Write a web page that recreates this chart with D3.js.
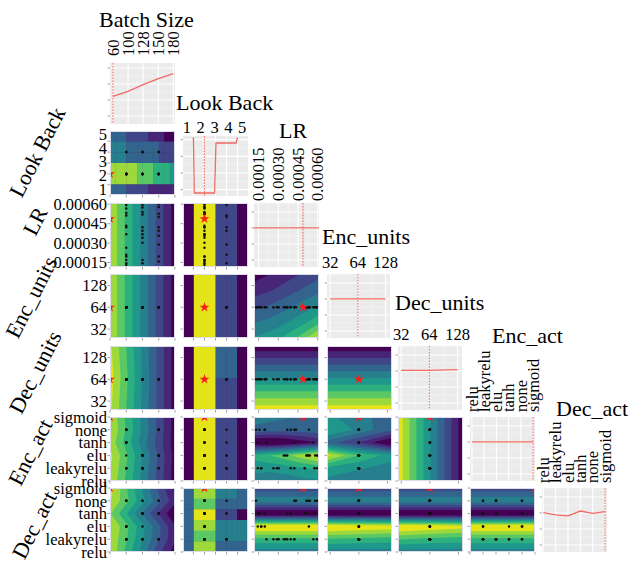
<!DOCTYPE html>
<html>
<head>
<meta charset="utf-8">
<script src="https://cdn.jsdelivr.net/npm/d3@7"></script>
<style>
  html, body { margin: 0; padding: 0; background: #ffffff; }
  #chart text { font-family: "Liberation Serif" !important; }
</style>
</head>
<body>
<svg id="chart" width="630" height="563"></svg>
<script>
// ---------------- hyper-parameter dimensions ----------------
const dimNames = ["Batch Size", "Look Back", "LR", "Enc_units", "Dec_units", "Enc_act", "Dec_act"];
const batchLevels = [60, 100, 128, 150, 180];
const lookBackLevels = [1, 2, 3, 4, 5];
const lrTicks = [0.00015, 0.00030, 0.00045, 0.00060];
const lrTickLabels = ["0.00015", "0.00030", "0.00045", "0.00060"];
const lrRange = [0.000115, 0.00061];
const unitLevels = [32, 64, 128];
const actLevels = ["relu", "leakyrelu", "elu", "tanh", "none", "sigmoid"];

// ---------------- evaluated configurations ----------------
const sampleBatch = [100, 100, 128, 150, 100, 128, 100, 150, 100, 100,
  150, 128, 128, 150, 100, 128, 128, 150, 100, 128,
  150, 100, 150, 100, 128, 150, 100, 128, 100, 128,
  150, 100, 128, 150];
const sampleLookBack = [2, 2, 4, 2, 2, 2, 2, 2, 4, 2,
  4, 2, 2, 2, 2, 2, 4, 2, 2, 2,
  4, 2, 4, 4, 2, 2, 2, 2, 2, 2,
  2, 2, 4, 2];
const sampleLR = [0.000130, 0.000144, 0.000144, 0.000157, 0.000170, 0.000170, 0.000197, 0.000197, 0.000210, 0.000263,
  0.000289, 0.000303, 0.000342, 0.000356, 0.000368, 0.000368, 0.000395, 0.000395, 0.000422, 0.000422,
  0.000422, 0.000435, 0.000501, 0.000514, 0.000522, 0.000527, 0.000533, 0.000541, 0.000567, 0.000575,
  0.000580, 0.000594, 0.000594, 0.000602];
const sampleEncUnits = [64, 64, 64, 64, 64, 64, 64, 64, 64, 64,
  64, 64, 64, 64, 64, 64, 64, 64, 64, 64,
  64, 64, 64, 64, 64, 64, 64, 64, 64, 64,
  64, 64, 64, 64];
const sampleDecUnits = [64, 64, 64, 64, 64, 64, 64, 64, 64, 64,
  64, 64, 64, 64, 64, 64, 64, 64, 64, 64,
  64, 64, 64, 64, 64, 64, 64, 64, 64, 64,
  64, 64, 64, 64];
const sampleEncAct = ["none", "tanh", "leakyrelu", "none", "leakyrelu", "leakyrelu", "none", "none", "tanh", "leakyrelu",
  "leakyrelu", "leakyrelu", "elu", "elu", "none", "elu", "leakyrelu", "none", "tanh", "leakyrelu",
  "none", "none", "leakyrelu", "elu", "elu", "elu", "none", "elu", "tanh", "leakyrelu",
  "elu", "leakyrelu", "elu", "elu"];
const sampleDecAct = ["none", "elu", "tanh", "tanh", "elu", "elu", "elu", "tanh", "leakyrelu", "leakyrelu",
  "leakyrelu", "leakyrelu", "leakyrelu", "leakyrelu", "leakyrelu", "tanh", "leakyrelu", "tanh", "leakyrelu", "none",
  "leakyrelu", "none", "tanh", "none", "tanh", "none", "elu", "none", "leakyrelu", "tanh",
  "none", "none", "leakyrelu", "leakyrelu"];

// best configuration found
const bestConfig = [60, 2, 0.000488, 64, 64, "sigmoid", "sigmoid"];

// ---------------- partial dependence of the objective (diagonal) ----------------
const pdBatch = [0.02616, 0.02772, 0.02978, 0.03166, 0.03322];
const pdLookBackX = [1, 1.08, 2.92, 3.04, 4.86, 5];
const pdLookBack = [0.0514, 0.0180, 0.0180, 0.0480, 0.0480, 0.0514];
const pdLRX = [0.000115, 0.00061];
const pdLR = [0.0200, 0.0200];
const pdEncUnits = [0.0200, 0.0200, 0.0200];
const pdDecUnits = [0.02002, 0.02002, 0.02004];
const pdEncAct = [0.0200, 0.0200, 0.0200, 0.0200, 0.0200, 0.0200];
const pdDecAct = [0.02001, 0.01994, 0.01991, 0.02006, 0.01999, 0.02004];

const diagYDomain0 = [0.0175, 0.03656];
const diagYTicks0 = [0.020, 0.025, 0.030, 0.035];
const diagYDomain1 = [0.0162, 0.0522];
const diagYTicks1 = [0.02, 0.03, 0.04, 0.05];
const diagYDomainRest = [0.01878, 0.02078];
const diagYTicksRest = [0.0190, 0.0195, 0.0200, 0.0205];

// ---------------- pairwise partial dependence (score levels 0..9, 9 = best) ----------------
// rows run top to bottom, columns left to right
const gridLookBackBatch = [
  [3, 3, 3, 2, 2, 2, 2, 1, 1, 1, 0, 0],
  [4, 4, 4, 3, 3, 3, 3, 3, 3, 2, 2, 2],
  [4, 4, 4, 3, 3, 3, 3, 3, 3, 2, 2, 2],
  [8, 8, 8, 8, 8, 7, 7, 7, 6, 6, 6, 5],
  [8, 8, 8, 8, 8, 7, 7, 7, 6, 6, 6, 5],
  [3, 3, 3, 2, 2, 2, 2, 1, 1, 1, 1, 1]
];
const gridLRBatch = [[8.4, 6.3, 4.2, 2.1, 0], [8.4, 6.3, 4.2, 2.1, 0]];
const gridEncBatch = [[8.4, 6.3, 4.2, 2.1, 0], [8.4, 6.3, 4.2, 2.1, 0]];
const gridDecBatch = [[8.7, 6.5, 4.3, 2.2, 0], [9.0, 6.7, 4.4, 2.2, 0], [8.7, 6.5, 4.3, 2.2, 0]];
const gridEncActBatch = [
  [8.4, 6.3, 4.2, 2.1, 0],
  [8.6, 6.4, 4.3, 2.2, 0],
  [8.2, 6.1, 4.0, 2.0, 0],
  [8.8, 6.7, 4.5, 2.3, 0.1],
  [8.6, 6.5, 4.3, 2.2, 0],
  [8.4, 6.3, 4.2, 2.1, 0]
];
const gridDecActBatch = [
  [9.0, 6.6, 4.4, 2.2, 0.2],
  [8.6, 6.8, 4.8, 2.8, 0.8],
  [7.6, 5.6, 3.4, 1.4, -0.5],
  [8.6, 6.8, 4.8, 2.8, 0.6],
  [8.4, 6.6, 4.6, 2.6, 0.6],
  [8.4, 6.2, 4.0, 1.8, 0]
];
const gridLRLookBack = [[0, 9, 9, 2, 2, 0]];
const gridEncLookBack = [[0, 9, 9, 2, 2, 0]];
const gridDecLookBack = [[0, 9, 9, 3, 3, 0], [0, 9, 9, 2, 2, 0]];
const gridEncActLookBack = [[0, 9, 9, 2, 2, 0]];
const gridDecActLookBack = [
  [3, 8, 8, 4, 4, 3],
  [3, 7, 7, 3, 3, 3],
  [3, 9, 9, 2, 2, 0],
  [3, 8, 8, 4, 4, 4],
  [3, 7, 7, 4, 4, 4],
  [3, 8, 8, 3, 3, 3]
];
const gridEncLR = [
  [0.0, 0.5, 1.0, 1.6, 2.2],
  [1.0, 1.4, 2.0, 2.6, 3.2],
  [2.2, 2.6, 3.2, 3.9, 4.6],
  [3.4, 3.8, 4.4, 5.2, 6.2],
  [4.6, 5.0, 5.8, 7.0, 9.0]
];
const gridDecLR = [[-0.3, -0.3], [2.1, 2.1], [4.5, 4.5], [6.9, 6.9], [9.2, 9.2]];
const gridEncActLR = [
  [4.0, 3.8, 3.6, 3.4, 3.4],
  [3.2, 3.0, 2.9, 3.0, 3.2],
  [-0.8, -1.0, -0.6, 0.0, 0.6],
  [5.8, 6.5, 7.2, 8.2, 9.0],
  [5.0, 4.8, 5.0, 5.4, 5.8],
  [3.8, 3.8, 4.0, 4.2, 4.4]
];
const gridDecActLR = [[2.0, 2.0], [4.2, 4.2], [-1.0, -1.0], [9.8, 9.8], [6.2, 6.2], [4.0, 4.0]];
const gridDecEnc = [[-0.3, -0.3], [2.1, 2.1], [4.5, 4.5], [6.9, 6.9], [9.2, 9.2]];
const gridEncActEnc = [
  [4.8, 3.8, 3.0],
  [5.6, 4.2, 2.6],
  [3.0, 1.4, -0.8],
  [8.8, 6.4, 5.0],
  [5.2, 4.6, 4.0],
  [4.2, 3.8, 3.4]
];
const gridDecActEnc = [
  [2.0, 2.0, 2.0],
  [4.2, 4.2, 4.2],
  [-1.0, -1.0, -1.0],
  [9.8, 9.5, 9.2],
  [6.4, 6.2, 6.0],
  [4.0, 4.0, 4.0]
];
const gridEncActDec = [[9.2, 6.8, 4.5, 2.2, -0.2], [9.2, 6.8, 4.5, 2.2, -0.2]];
const gridDecActDec = [
  [2.0, 2.0, 2.0],
  [4.2, 4.2, 4.2],
  [-1.0, -1.0, -1.0],
  [9.8, 9.4, 9.0],
  [6.6, 6.2, 6.0],
  [4.0, 4.0, 4.0]
];
const gridDecActEncAct = [[2.0, 2.0], [4.2, 4.2], [-1.0, -1.0], [9.8, 9.8], [6.2, 6.2], [4.0, 4.0]];

// ---------------- layout ----------------
const svg = d3.select("#chart");
const defs = svg.append("defs");
const colLeft = [110, 183, 254, 327, 398, 470, 542];
const rowTop = [63, 131, 203, 274, 346, 417, 488];
const cellW = 65, cellH = 64;
const diagBox = [
  [110, 63, 65, 61], [183, 136, 65, 60], [254, 203, 65, 64], [327, 274, 63, 64],
  [398, 346, 64, 64], [470, 417, 65, 64], [542, 488, 65, 64]
];
const titlePos = [[99, 27], [176, 110], [279, 138], [322, 244], [395, 310], [492, 343], [556, 416]];
const rowLabelPos = [null, [37, 152], [35, 221], [31, 297], [35, 372], [30, 452], [34, 525]];
const topLabelGap = [7, 3, 2, 6, 6, 5, 5];
const fontName = "Liberation Serif";
const tickFont = 16.5, titleFont = 22;

const baseScale = [
  d3.scalePoint().domain(batchLevels),
  d3.scaleLinear().domain([1, 5]),
  d3.scaleLinear().domain(lrRange),
  d3.scaleLog().base(2).domain([32, 128]),
  d3.scaleLog().base(2).domain([32, 128]),
  d3.scalePoint().domain(actLevels),
  d3.scalePoint().domain(actLevels)
];
const heatXSpan = [[0, 1], [0.16, 0.84], [0, 1], [0.05, 0.93], [0.05, 0.93], [0, 1], [0, 1]];
const heatYSpan = [[0, 1], [0.16, 0.84], [0, 1], [0.14, 0.82], [0.14, 0.82], [0, 1], [0, 1]];
const diagXSpan = [[0.045, 0.975], [0.16, 0.84], [0, 1], [0.05, 0.93], [0.05, 0.93], [0.03, 0.97], [0.02, 0.97]];
const tickValues = [batchLevels, lookBackLevels, lrTicks, unitLevels, unitLevels, actLevels, actLevels];

function spanScale(i, a, b, span) {
  return baseScale[i].copy().range([a + span[0] * (b - a), a + span[1] * (b - a)]);
}
const heatX = c => spanScale(c, colLeft[c], colLeft[c] + cellW, heatXSpan[c]);
const heatY = r => spanScale(r, rowTop[r] + cellH, rowTop[r], heatYSpan[r]);

const sampleCols = [sampleBatch, sampleLookBack, sampleLR, sampleEncUnits, sampleDecUnits, sampleEncAct, sampleDecAct];
const samples = d3.range(sampleBatch.length).map(k => sampleCols.map(col => col[k]));

const levels = d3.range(1, 10).map(k => k - 0.5);
const bandColor = k => d3.interpolateViridis(Math.max(0, Math.min(9, k)) / 9 * 0.96);
const starSymbol = d3.symbol().type(d3.symbolStar).size(30);

function addClip(id, x, y, w, h) {
  defs.append("clipPath").attr("id", id)
    .append("rect").attr("x", x).attr("y", y).attr("width", w).attr("height", h);
}
function addText(parent, size) {
  return parent.append("text")
    .attr("font-family", fontName)
    .style("font-family", fontName, "important")
    .attr("font-size", size).attr("fill", "#000");
}

// ---------------- off-diagonal panels ----------------
const heatPanels = [
  [1, 0, gridLookBackBatch, true],
  [2, 0, gridLRBatch, false], [2, 1, gridLRLookBack, true],
  [3, 0, gridEncBatch, false], [3, 1, gridEncLookBack, true], [3, 2, gridEncLR, false],
  [4, 0, gridDecBatch, false], [4, 1, gridDecLookBack, true], [4, 2, gridDecLR, false], [4, 3, gridDecEnc, false],
  [5, 0, gridEncActBatch, false], [5, 1, gridEncActLookBack, true], [5, 2, gridEncActLR, false],
  [5, 3, gridEncActEnc, false], [5, 4, gridEncActDec, false],
  [6, 0, gridDecActBatch, false], [6, 1, gridDecActLookBack, true], [6, 2, gridDecActLR, false],
  [6, 3, gridDecActEnc, false], [6, 4, gridDecActDec, false], [6, 5, gridDecActEncAct, false]
];

heatPanels.forEach(([r, c, grid, blocky]) => {
  const x0 = colLeft[c], y0 = rowTop[r];
  const id = `clipH${r}${c}`;
  addClip(id, x0, y0, cellW, cellH);
  const ny = grid.length, nx = grid[0].length;
  const sx = heatX(c), sy = heatY(r);

  // axis ticks (left and bottom)
  const tk = svg.append("g").attr("stroke", "#8a8a8a").attr("stroke-width", 0.8);
  tk.selectAll("line.b").data(tickValues[c]).join("line").attr("class", "b")
    .attr("x1", d => sx(d)).attr("x2", d => sx(d))
    .attr("y1", y0 + cellH).attr("y2", y0 + cellH + 2.5);
  tk.selectAll("line.l").data(tickValues[r]).join("line").attr("class", "l")
    .attr("y1", d => sy(d)).attr("y2", d => sy(d))
    .attr("x1", x0 - 2.5).attr("x2", x0);

  const g = svg.append("g").attr("clip-path", `url(#${id})`);
  g.append("rect").attr("x", x0).attr("y", y0).attr("width", cellW).attr("height", cellH)
    .attr("fill", bandColor(0));

  if (blocky) {
    // discrete parameter pairs: one block per grid cell
    const bx = d3.scaleBand().domain(d3.range(nx)).range([x0, x0 + cellW]);
    const by = d3.scaleBand().domain(d3.range(ny)).range([y0, y0 + cellH]);
    const cells = grid.flatMap((row, j) => row.map((v, i) => ({ i, j, v })));
    g.selectAll("rect.cell").data(cells).join("rect").attr("class", "cell")
      .attr("x", d => bx(d.i)).attr("y", d => by(d.j))
      .attr("width", bx.bandwidth() + 0.4).attr("height", by.bandwidth() + 0.4)
      .attr("fill", d => bandColor(Math.round(d.v)));
  } else {
    // filled contour bands
    const gx = d3.scaleLinear().domain([0.5, nx - 0.5]).range([x0, x0 + cellW]);
    const gy = d3.scaleLinear().domain([0.5, ny - 0.5]).range([y0, y0 + cellH]);
    const path = d3.geoPath(d3.geoTransform({
      point(x, y) { this.stream.point(gx(x), gy(y)); }
    }));
    const contours = d3.contours().size([nx, ny]).smooth(true).thresholds(levels)(grid.flat());
    g.selectAll("path.band").data(contours).join("path")
      .attr("class", "band")
      .attr("d", path)
      .attr("fill", d => bandColor(Math.round(d.value + 0.5)));
  }

  // evaluated points
  g.selectAll("circle").data(samples).join("circle")
    .attr("cx", d => sx(d[c])).attr("cy", d => sy(d[r]))
    .attr("r", 1.25).attr("fill", "#111");
  // best point
  g.append("path").attr("d", starSymbol)
    .attr("transform", `translate(${sx(bestConfig[c])},${sy(bestConfig[r])})`)
    .attr("fill", "#ff1a1a");

  svg.append("rect").attr("x", x0 + 0.5).attr("y", y0 + 0.5)
    .attr("width", cellW - 1).attr("height", cellH - 1)
    .attr("fill", "none").attr("stroke", "#dcdce8").attr("stroke-width", 1);
});

// ---------------- diagonal partial-dependence panels ----------------
const diagX = [batchLevels, pdLookBackX, pdLRX, unitLevels, unitLevels, actLevels, actLevels];
const diagY = [pdBatch, pdLookBack, pdLR, pdEncUnits, pdDecUnits, pdEncAct, pdDecAct];
const diagDomain = [diagYDomain0, diagYDomain1, diagYDomainRest, diagYDomainRest, diagYDomainRest, diagYDomainRest, diagYDomainRest];
const diagTicks = [diagYTicks0, diagYTicks1, diagYTicksRest, diagYTicksRest, diagYTicksRest, diagYTicksRest, diagYTicksRest];
const lrMinor = [0.000225, 0.000375, 0.000525];
const unitMinor = [Math.SQRT2 * 32, Math.SQRT2 * 64];

for (let i = 0; i < 7; i++) {
  const [x0, y0, w, h] = diagBox[i];
  const id = `clipD${i}`;
  addClip(id, x0, y0, w, h);
  const sx = spanScale(i, x0, x0 + w, diagXSpan[i]);
  const sy = d3.scaleLinear().domain(diagDomain[i]).range([y0 + h, y0]);
  const yt = diagTicks[i];
  const step = yt[1] - yt[0];
  const yMinor = d3.range(yt[0] - step / 2, yt[yt.length - 1] + step, step)
    .filter(v => v > diagDomain[i][0] && v < diagDomain[i][1]);

  // left ticks
  svg.append("g").attr("stroke", "#8a8a8a").attr("stroke-width", 0.8)
    .selectAll("line").data(yt).join("line")
    .attr("x1", x0 - 2.5).attr("x2", x0).attr("y1", d => sy(d)).attr("y2", d => sy(d));

  const g = svg.append("g").attr("clip-path", `url(#${id})`);
  g.append("rect").attr("x", x0).attr("y", y0).attr("width", w).attr("height", h).attr("fill", "#ebebeb");
  g.selectAll("line.ym").data(yMinor).join("line").attr("class", "ym")
    .attr("x1", x0).attr("x2", x0 + w).attr("y1", d => sy(d)).attr("y2", d => sy(d))
    .attr("stroke", "#f7f7f7").attr("stroke-width", 0.55);
  const xMinor = i === 2 ? lrMinor : (i === 3 || i === 4 ? unitMinor : []);
  g.selectAll("line.xm").data(xMinor).join("line").attr("class", "xm")
    .attr("x1", d => sx(d)).attr("x2", d => sx(d)).attr("y1", y0).attr("y2", y0 + h)
    .attr("stroke", "#f7f7f7").attr("stroke-width", 0.55);
  g.selectAll("line.yM").data(yt).join("line").attr("class", "yM")
    .attr("x1", x0).attr("x2", x0 + w).attr("y1", d => sy(d)).attr("y2", d => sy(d))
    .attr("stroke", "#ffffff").attr("stroke-width", 1.1);
  g.selectAll("line.xM").data(tickValues[i]).join("line").attr("class", "xM")
    .attr("x1", d => sx(d)).attr("x2", d => sx(d)).attr("y1", y0).attr("y2", y0 + h)
    .attr("stroke", "#ffffff").attr("stroke-width", 1.1);

  const pts = diagX[i].map((v, k) => [v, diagY[i][k]]);
  g.append("path").datum(pts)
    .attr("d", d3.line().x(d => sx(d[0])).y(d => sy(d[1])))
    .attr("fill", "none").attr("stroke", "#f26a61").attr("stroke-width", 1.3);
  g.append("line")
    .attr("x1", sx(bestConfig[i])).attr("x2", sx(bestConfig[i]))
    .attr("y1", y0).attr("y2", y0 + h)
    .attr("stroke", "#f0504b").attr("stroke-width", 0.9).attr("stroke-dasharray", "1.6,1.3");

  // column title
  addText(svg, titleFont).attr("x", titlePos[i][0]).attr("y", titlePos[i][1]).text(dimNames[i]);

  // tick labels above the diagonal panel
  const vertical = [0, 2, 5, 6].includes(i);
  const labelText = i === 2 ? lrTickLabels : tickValues[i].map(String);
  const lx = i === 1
    ? d3.scalePoint().domain(lookBackLevels).range([x0 + 0.06 * w, x0 + 0.91 * w])
    : sx;
  const baseY = y0 - topLabelGap[i];
  tickValues[i].forEach((v, k) => {
    if (vertical) {
      addText(svg, tickFont)
        .attr("transform", `translate(${lx(v)},${baseY}) rotate(-90)`)
        .attr("dy", "0.35em").attr("text-anchor", "start").text(labelText[k]);
    } else {
      addText(svg, tickFont).attr("x", lx(v)).attr("y", baseY)
        .attr("text-anchor", "middle").text(labelText[k]);
    }
  });
}

// ---------------- row labels and left tick labels ----------------
const lookBackLabelY = d3.scalePoint().domain(lookBackLevels)
  .range([rowTop[1] + cellH - 0.09 * cellH, rowTop[1] + cellH - 0.95 * cellH]);
for (let r = 1; r < 7; r++) {
  const sy = r === 1 ? lookBackLabelY : heatY(r);
  const labelText = r === 2 ? lrTickLabels : tickValues[r].map(String);
  tickValues[r].forEach((v, k) => {
    addText(svg, tickFont).attr("text-anchor", "end")
      .attr("x", colLeft[0] - 3).attr("y", sy(v)).attr("dy", "0.35em").text(labelText[k]);
  });
  addText(svg, titleFont)
    .attr("transform", `translate(${rowLabelPos[r][0]},${rowLabelPos[r][1]}) rotate(-63)`)
    .attr("text-anchor", "middle").attr("dy", "0.35em")
    .text(dimNames[r]);
}
</script>
</body>
</html>
